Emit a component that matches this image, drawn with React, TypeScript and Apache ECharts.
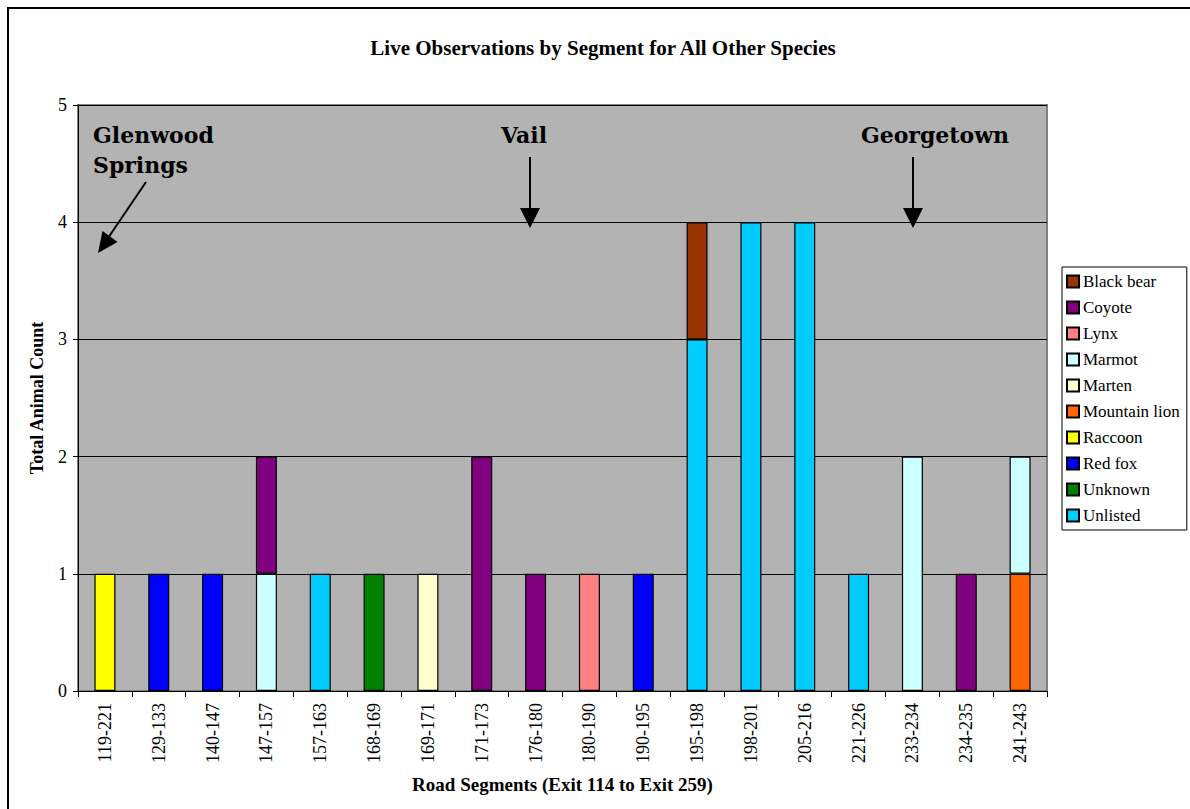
import React, { useEffect, useRef } from "react";
import * as echarts from "echarts";

const categories = [
  "119-221", "129-133", "140-147", "147-157", "157-163", "168-169", "169-171", "171-173", "176-180",
  "180-190", "190-195", "195-198", "198-201", "205-216", "221-226", "233-234", "234-235", "241-243",
];

// legend order (top of legend = top of stack)
const legendOrder = [
  "Black bear", "Coyote", "Lynx", "Marmot", "Marten", "Mountain lion", "Raccoon", "Red fox", "Unknown", "Unlisted",
];

const blackBear = [0, 0, 0, 0, 0, 0, 0, 0, 0, 0, 0, 1, 0, 0, 0, 0, 0, 0];
const coyote = [0, 0, 0, 1, 0, 0, 0, 2, 1, 0, 0, 0, 0, 0, 0, 0, 1, 0];
const lynx = [0, 0, 0, 0, 0, 0, 0, 0, 0, 1, 0, 0, 0, 0, 0, 0, 0, 0];
const marmot = [0, 0, 0, 1, 0, 0, 0, 0, 0, 0, 0, 0, 0, 0, 0, 2, 0, 1];
const marten = [0, 0, 0, 0, 0, 0, 1, 0, 0, 0, 0, 0, 0, 0, 0, 0, 0, 0];
const mountainLion = [0, 0, 0, 0, 0, 0, 0, 0, 0, 0, 0, 0, 0, 0, 0, 0, 0, 1];
const raccoon = [1, 0, 0, 0, 0, 0, 0, 0, 0, 0, 0, 0, 0, 0, 0, 0, 0, 0];
const redFox = [0, 1, 1, 0, 0, 0, 0, 0, 0, 0, 1, 0, 0, 0, 0, 0, 0, 0];
const unknown = [0, 0, 0, 0, 0, 1, 0, 0, 0, 0, 0, 0, 0, 0, 0, 0, 0, 0];
const unlisted = [0, 0, 0, 0, 1, 0, 0, 0, 0, 0, 0, 3, 4, 4, 1, 0, 0, 0];

const yTicks = [0, 1, 2, 3, 4, 5];

// stacking order: bottom to top
const stackSeries: { name: string; data: number[]; color: string }[] = [
  { name: "Unlisted", data: unlisted, color: "#00CCFF" },
  { name: "Unknown", data: unknown, color: "#008000" },
  { name: "Red fox", data: redFox, color: "#0000FF" },
  { name: "Raccoon", data: raccoon, color: "#FFFF00" },
  { name: "Mountain lion", data: mountainLion, color: "#FF6600" },
  { name: "Marten", data: marten, color: "#FFFFCC" },
  { name: "Marmot", data: marmot, color: "#CCFFFF" },
  { name: "Lynx", data: lynx, color: "#FF8080" },
  { name: "Coyote", data: coyote, color: "#800080" },
  { name: "Black bear", data: blackBear, color: "#993300" },
];

const SERIF = "'Liberation Serif', 'Times New Roman', serif";
const ANNOT = "'DejaVu Serif', serif";

export default function App() {
  const ref = useRef<HTMLDivElement>(null);
  useEffect(() => {
    if (!ref.current) return;
    const chart = echarts.init(ref.current, undefined, { renderer: "svg" });
    const annText = (text: string, x: number, y: number, align = "left") => ({
      type: "text",
      x,
      y,
      z: 10,
      style: {
        text,
        fill: "#000",
        font: `bold 22px ${ANNOT}`,
        textAlign: align,
        textVerticalAlign: "middle",
      },
    });
    const vArrow = (x: number) => [
      { type: "line", z: 10, shape: { x1: x, y1: 157, x2: x, y2: 212 }, style: { stroke: "#000", lineWidth: 2 } },
      { type: "polygon", z: 10, shape: { points: [[x - 10, 208], [x + 10, 208], [x, 228]] }, style: { fill: "#000" } },
    ];
    chart.setOption({
      animation: false,
      backgroundColor: "#fff",
      title: {
        text: "Live Observations by Segment for All Other Species",
        left: 598,
        top: 32,
        textAlign: "center",
        textStyle: { fontFamily: SERIF, fontWeight: "bold", fontSize: 21, color: "#000" },
      },
      legend: {
        data: legendOrder,
        orient: "vertical",
        left: 1062,
        top: 267,
        backgroundColor: "#fff",
        borderColor: "#000",
        borderWidth: 1,
        padding: [6, 7, 6, 4],
        itemWidth: 12,
        itemHeight: 12,
        itemGap: 9,
        icon: "rect",
        textStyle: { fontFamily: SERIF, fontSize: 17, color: "#000", padding: [0, 0, 0, -1] },
      },
      grid: {
        left: 78,
        top: 105,
        right: 143,
        bottom: 118,
        show: true,
        backgroundColor: "#b3b3b3",
        borderColor: "#808080",
        borderWidth: 2,
      },
      xAxis: {
        type: "category",
        data: categories,
        name: "Road Segments (Exit 114 to Exit 259)",
        nameLocation: "middle",
        nameGap: 84,
        nameTextStyle: { fontFamily: SERIF, fontWeight: "bold", fontSize: 19, color: "#000" },
        axisLine: { lineStyle: { color: "#000", width: 1 } },
        axisTick: { show: true, alignWithLabel: false, length: 6, lineStyle: { color: "#000" } },
        axisLabel: { rotate: 90, fontFamily: SERIF, fontSize: 18, color: "#000", margin: 12, interval: 0 },
        splitLine: { show: false },
      },
      yAxis: {
        type: "value",
        min: yTicks[0],
        max: yTicks[yTicks.length - 1],
        interval: 1,
        name: "Total Animal Count",
        nameLocation: "middle",
        nameGap: 32,
        nameTextStyle: { fontFamily: SERIF, fontWeight: "bold", fontSize: 18, color: "#000" },
        axisLine: { show: true, lineStyle: { color: "#000", width: 1 } },
        axisTick: { show: true, length: 5, lineStyle: { color: "#000" } },
        axisLabel: { fontFamily: SERIF, fontSize: 18, color: "#000", margin: 11 },
        splitLine: { show: true, lineStyle: { color: "#000", width: 1 } },
      },
      series: stackSeries.map((s) => ({
        name: s.name,
        type: "bar",
        stack: "total",
        barWidth: 21,
        data: s.data.map((v) => (v === 0 ? "-" : v)),
        itemStyle: { color: s.color, borderColor: "#000", borderWidth: 1.2 },
      })),
      graphic: [
        {
          type: "rect",
          z: 0,
          shape: { x: 8, y: 8, width: 1300, height: 1000 },
          style: { fill: "none", stroke: "#000", lineWidth: 2 },
        },
        annText("Glenwood", 93, 135),
        annText("Springs", 93, 165),
        annText("Vail", 524, 135, "center"),
        annText("Georgetown", 935, 135, "center"),
        { type: "line", z: 10, shape: { x1: 146, y1: 182, x2: 106, y2: 241 }, style: { stroke: "#000", lineWidth: 2 } },
        {
          type: "polygon",
          z: 10,
          shape: { points: [[98, 253], [117.5, 242], [102.5, 231]] },
          style: { fill: "#000" },
        },
        ...vArrow(530),
        ...vArrow(913),
      ],
    });
    return () => chart.dispose();
  }, []);
  return <div ref={ref} style={{ position: "absolute", left: 0, top: 0, width: 1190, height: 809 }} />;
}
